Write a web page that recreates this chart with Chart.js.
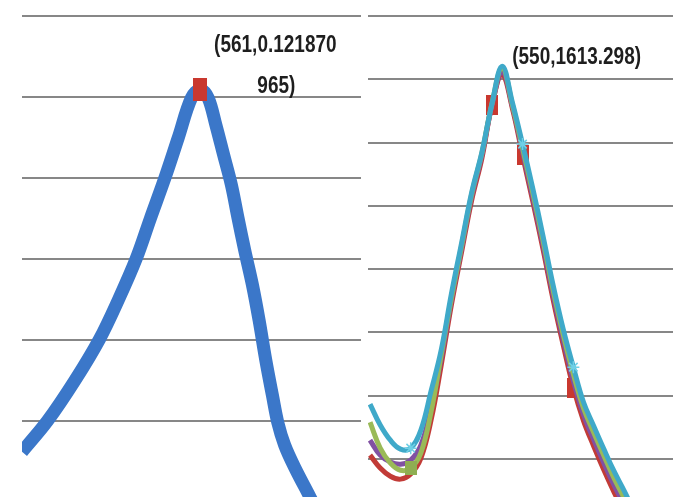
<!DOCTYPE html>
<html>
<head>
<meta charset="utf-8">
<script src="https://cdn.jsdelivr.net/npm/chart.js@4.4.1/dist/chart.umd.min.js"></script>
<style>
  html, body { margin: 0; padding: 0; background: #fff; }
  #wrap { position: relative; width: 673px; height: 497px; overflow: hidden; background: #fff; }
  #c1 { position: absolute; left: 0; top: 0; }
  #c2 { position: absolute; left: 362px; top: 0; }
</style>
</head>
<body>
<div id="wrap">
  <canvas id="c1" width="362" height="497"></canvas>
  <canvas id="c2" width="311" height="497"></canvas>
</div>
<script>
// ---- Left panel: single spectrum ----
const leftWavelengths = [400, 423, 448, 470, 487, 503, 516, 529, 541, 553, 561, 568, 575, 582, 589, 595, 601, 608, 614, 620, 626, 631, 637, 646, 660, 669];
const leftValues = [0.0324, 0.0400, 0.0501, 0.0602, 0.0699, 0.0800, 0.0901, 0.1000, 0.1099, 0.1198, 0.121870965, 0.1198, 0.1131, 0.1057, 0.0983, 0.0901, 0.0822, 0.0736, 0.0649, 0.0551, 0.0464, 0.0395, 0.0341, 0.0286, 0.0212, 0.0163];
const leftPeak = { x: 561, y: 0.121870965 };
const leftGridValues = [0.04, 0.06, 0.08, 0.10, 0.12, 0.14];

// ---- Right panel: four spectra ----
const rightWavelengths = [420, 430, 440, 450, 460, 470, 480, 490, 500, 510, 520, 530, 540, 550, 560, 570, 580, 590, 600, 610, 620, 630, 640, 650, 660, 670, 680];
const cyanValues   = [573, 507, 459, 431, 434, 491, 614, 744, 921, 1082, 1243, 1369, 1524, 1641, 1527, 1395, 1256, 1107, 950, 810, 690, 579, 504, 431, 361, 299, 232];
const greenValues  = [516, 434, 387, 364, 371, 419, 548, 728, 908, 1072, 1237, 1366, 1524, 1635, 1520, 1383, 1242, 1093, 935, 793, 668, 560, 483, 410, 339, 276, 210];
const purpleValues = [459, 412, 390, 383, 396, 443, 560, 718, 902, 1066, 1230, 1360, 1518, 1622, 1515, 1372, 1229, 1079, 920, 777, 647, 540, 461, 387, 317, 253, 187];
const redValues    = [412, 371, 345, 336, 352, 402, 522, 696, 886, 1053, 1218, 1350, 1520, 1613.298, 1508, 1360, 1215, 1065, 905, 760, 625, 520, 440, 365, 295, 230, 165];
const rightPeak = { x: 550, y: 1613.298 };
const rightGridValues = [400, 600, 800, 1000, 1200, 1400, 1600, 1800];

// wavelengths that carry a visible marker on each right-hand series
const redMarkerAt = [540, 570, 620];
const greenMarkerAt = [460];
const cyanMarkerAt = [460, 570, 620];

const toPoints = (xs, ys) => xs.map((x, i) => ({ x, y: ys[i] }));

// tall rectangular marker sprite
function rectSprite(w, h, color) {
  const c = document.createElement('canvas');
  c.width = w; c.height = h;
  const g = c.getContext('2d');
  g.fillStyle = color;
  g.fillRect(0, 0, w, h);
  return c;
}
const bigRed = rectSprite(14, 23, '#c9382f');
const smallRed = rectSprite(12, 20, '#c9382f');
const smallGreen = rectSprite(12, 14, '#8fae52');

// draws the "(x,y)" callout next to a chosen point
const peakLabels = {
  id: 'peakLabels',
  afterDatasetsDraw(chart, args, opts) {
    const pt = chart.getDatasetMeta(opts.datasetIndex).data[opts.index];
    const ctx = chart.ctx;
    ctx.save();
    ctx.fillStyle = '#1e1e1e';
    ctx.font = 'bold 19px "Liberation Sans", Arial, sans-serif';
    ctx.textBaseline = 'middle';
    opts.lines.forEach(l => {
      ctx.save();
      ctx.translate(pt.x + l.dx, pt.y + l.dy);
      ctx.scale(1, 1.22);
      ctx.textAlign = l.align;
      ctx.fillText(l.text, 0, 0);
      ctx.restore();
    });
    ctx.restore();
  }
};

function gridScale(min, max, values) {
  return {
    type: 'linear',
    min, max,
    border: { display: false },
    ticks: { display: false },
    grid: { color: '#878787', lineWidth: 2, drawTicks: false },
    afterBuildTicks: s => { s.ticks = values.map(v => ({ value: v })); }
  };
}

const hiddenX = (min, max) => ({ type: 'linear', min, max, display: false });

// ---- left chart ----
const leftPeakIndex = leftWavelengths.indexOf(leftPeak.x);
const leftText = `(${leftPeak.x},${leftPeak.y})`;
new Chart(document.getElementById('c1'), {
  type: 'line',
  data: {
    datasets: [{
      data: toPoints(leftWavelengths, leftValues),
      borderColor: '#3b77c9',
      borderWidth: 13,
      tension: 0.35,
      clip: 0,
      pointRadius: c => c.dataIndex === leftPeakIndex ? 8 : 0,
      pointStyle: c => c.dataIndex === leftPeakIndex ? bigRed : 'circle'
    }]
  },
  options: {
    responsive: false,
    animation: false,
    layout: { padding: { left: 22, right: 1, top: 0, bottom: 0 } },
    scales: {
      x: hiddenX(400, 706),
      y: gridScale(0.02123, 0.14395, leftGridValues)
    },
    plugins: {
      legend: { display: false },
      tooltip: { enabled: false },
      peakLabels: {
        datasetIndex: 0,
        index: leftPeakIndex,
        lines: [
          { text: leftText.slice(0, 13), dx: 75, dy: -44, align: 'center' },
          { text: leftText.slice(13), dx: 76, dy: -3, align: 'center' }
        ]
      }
    }
  },
  plugins: [peakLabels]
});

// ---- right chart ----
const rightPeakIndex = rightWavelengths.indexOf(rightPeak.x);
function series(values, color, markerAt, sprite) {
  return {
    data: toPoints(rightWavelengths, values),
    borderColor: color,
    backgroundColor: color,
    borderWidth: 5,
    tension: 0.4,
    clip: 0,
    pointRadius: c => markerAt.includes(rightWavelengths[c.dataIndex]) ? 6 : 0,
    pointStyle: c => markerAt.includes(rightWavelengths[c.dataIndex]) ? sprite : 'circle',
    pointBorderWidth: 1.5,
    pointBorderColor: '#6fd0e6'
  };
}
new Chart(document.getElementById('c2'), {
  type: 'line',
  data: {
    datasets: [
      series(cyanValues, '#3fa9c9', cyanMarkerAt, 'star'),
      series(greenValues, '#9aba58', greenMarkerAt, smallGreen),
      series(purpleValues, '#8151a3', [], 'circle'),
      series(redValues, '#c23b37', redMarkerAt, smallRed)
    ]
  },
  options: {
    responsive: false,
    animation: false,
    layout: { padding: { left: 6, right: 0, top: 0, bottom: 0 } },
    scales: {
      x: hiddenX(418, 718),
      y: gridScale(279.5, 1850.6, rightGridValues)
    },
    plugins: {
      legend: { display: false },
      tooltip: { enabled: false },
      peakLabels: {
        datasetIndex: 3,
        index: rightPeakIndex,
        lines: [
          { text: `(${rightPeak.x},${rightPeak.y})`, dx: 10, dy: -17, align: 'left' }
        ]
      }
    }
  },
  plugins: [peakLabels]
});
</script>
</body>
</html>
